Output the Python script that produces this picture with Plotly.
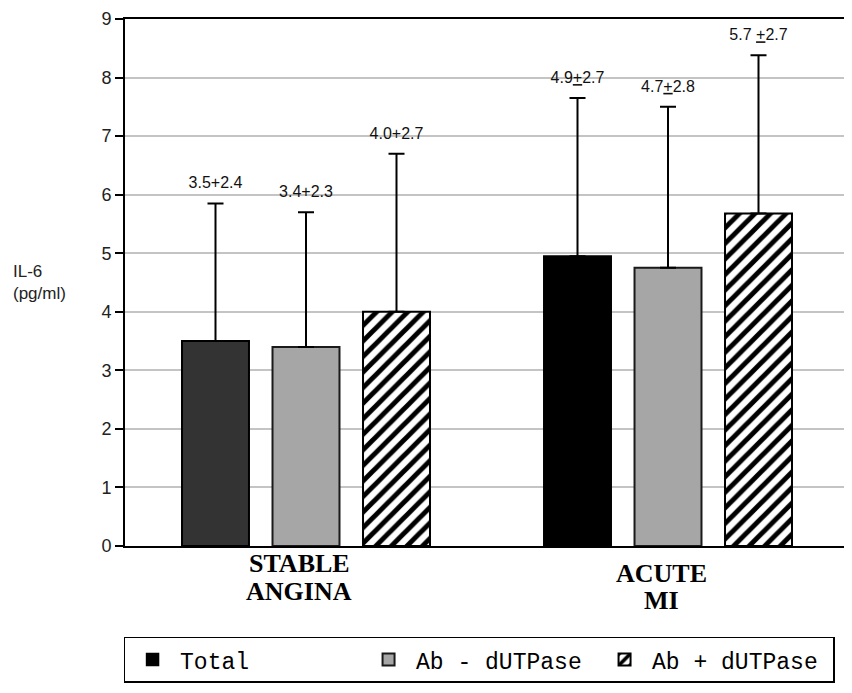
import plotly.graph_objects as go

categories = ["STABLE ANGINA", "ACUTE MI"]
total_vals = [3.5, 4.95]
total_sd = [2.35, 2.7]
abneg_vals = [3.4, 4.75]
abneg_sd = [2.3, 2.75]
abpos_vals = [4.0, 5.68]
abpos_sd = [2.7, 2.7]
total_labels = ["3.5+2.4", "4.9<u>+</u>2.7"]
abneg_labels = ["3.4+2.3", "4.7<u>+</u>2.8"]
abpos_labels = ["4.0+2.7", "5.7 <u>+</u>2.7"]
cat_lines = [["STABLE", "ANGINA"], ["ACUTE", "MI"]]
y_ticks = [0, 1, 2, 3, 4, 5, 6, 7, 8, 9]

SANS = "Liberation Sans, Arial, sans-serif"
SERIF = "Liberation Serif, Times New Roman, serif"
MONO = "Liberation Mono, Courier New, monospace"

fig = go.Figure()

def err(sd):
    return dict(type="data", array=sd, arrayminus=[0] * len(sd), symmetric=False,
                color="black", thickness=2, width=8)

# Legend-only swatch for Total (black)
fig.add_trace(go.Bar(x=categories, y=[None, None], name="Total", offsetgroup="a",
                     marker=dict(color="black", line=dict(color="black", width=1.5)),
                     showlegend=True, hoverinfo="skip"))
fig.add_trace(go.Bar(x=categories, y=total_vals, name="Total", offsetgroup="a",
                     marker=dict(color=["#333333", "#000000"], line=dict(color="black", width=2)),
                     error_y=err(total_sd), showlegend=False))
fig.add_trace(go.Bar(x=categories, y=abneg_vals, name="Ab - dUTPase", offsetgroup="b",
                     marker=dict(color="#a6a6a6", line=dict(color="#1a1a1a", width=2)),
                     error_y=err(abneg_sd)))
fig.add_trace(go.Bar(x=categories, y=abpos_vals, name="Ab + dUTPase", offsetgroup="c",
                     marker=dict(color="white", line=dict(color="black", width=2),
                                 pattern=dict(shape="/", fgcolor="black", bgcolor="white",
                                              fgopacity=1, size=11, solidity=0.45)),
                     error_y=err(abpos_sd)))

# value labels above error bars (grouped scatter text)
for grp, vals, sds, labs in [("a", total_vals, total_sd, total_labels),
                             ("b", abneg_vals, abneg_sd, abneg_labels),
                             ("c", abpos_vals, abpos_sd, abpos_labels)]:
    fig.add_trace(go.Scatter(x=categories, y=[v + s for v, s in zip(vals, sds)],
                             mode="markers+text", text=labs, textposition="top center",
                             marker=dict(size=16, color="rgba(0,0,0,0)"),
                             offsetgroup=grp, showlegend=False, hoverinfo="skip",
                             textfont=dict(family=SANS, size=16, color="#111111")))

# category labels (one annotation per line)
line_shifts = [[-1, -29], [-11, -38]]
for c, lines, shifts in zip(categories, cat_lines, line_shifts):
    for t, ys in zip(lines, shifts):
        fig.add_annotation(x=c, y=0, xref="x", yref="y", text="<b>" + t + "</b>",
                           showarrow=False, yanchor="top", yshift=ys, xshift=-7,
                           font=dict(family=SERIF, size=26, color="black"))

fig.add_annotation(x=-0.158, y=0.5, xref="paper", yref="paper", xanchor="left",
                   yanchor="middle", align="left", text="IL-6<br>(pg/ml)", showarrow=False,
                   font=dict(family=SANS, size=17, color="#222222"))

fig.update_layout(
    width=844, height=685,
    margin=dict(l=117, r=1, t=10, b=147),
    barmode="group", bargap=0.25, bargroupgap=0.26,
    scattermode="group", scattergap=0.25,
    plot_bgcolor="white", paper_bgcolor="white",
    legend=dict(orientation="h", x=-0.002, y=-0.172, xanchor="left", yanchor="top",
                bordercolor="black", borderwidth=1.5, bgcolor="white",
                font=dict(family=MONO, size=23, color="black"),
                itemwidth=45, entrywidthmode="pixels", entrywidth=176, traceorder="normal"),
    xaxis=dict(range=[-0.5, 1.5], showticklabels=False, ticks="", showline=True,
               linecolor="black", linewidth=2, mirror=True, showgrid=False, fixedrange=True),
    yaxis=dict(range=[0, 9], tickvals=y_ticks, ticks="outside", ticklen=8, tickwidth=1.5,
               tickcolor="black", showline=True, linecolor="black", linewidth=2, mirror=True,
               showgrid=True, gridcolor="#c4c4c4", gridwidth=1.5, zeroline=False,
               tickfont=dict(family=SANS, size=18, color="#222222")),
)

fig.write_html("out.html")
